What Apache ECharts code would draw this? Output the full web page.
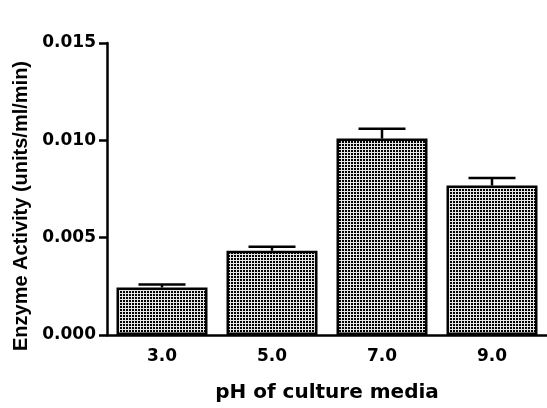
<!DOCTYPE html>
<html>
<head>
<meta charset="utf-8">
<script src="https://cdn.jsdelivr.net/npm/echarts@6/dist/echarts.min.js"></script>
<style>
  html, body { margin: 0; padding: 0; background: #fff; }
  #chart { width: 547px; height: 408px; }
</style>
</head>
<body>
<div id="chart"></div>
<script>
// pH values of the culture media and measured enzyme activity (units/ml/min)
const categories = ['3.0', '5.0', '7.0', '9.0'];
const activity = [0.00244, 0.00433, 0.01009, 0.00768];
const errors = [0.00016, 0.00020, 0.00050, 0.00038];
const yTicks = [0, 0.005, 0.010, 0.015];

(() => {
  // checkered fill like the original bars
  const tile = document.createElement('canvas');
  tile.width = 3;
  tile.height = 3;
  const ctx = tile.getContext('2d');
  ctx.fillStyle = '#e6e6e6';
  ctx.fillRect(0, 0, 3, 3);
  ctx.fillStyle = '#000000';
  ctx.fillRect(0, 0, 2, 2);

  const tickFont = {
    color: '#000',
    fontFamily: 'DejaVu Sans',
    fontWeight: 'bold',
    fontSize: 17
  };

  const myChart = echarts.init(document.getElementById('chart'), null, { renderer: 'canvas' });

  const option = {
    animation: false,
    backgroundColor: '#fff',
    grid: {
      left: 107,
      top: 43,
      width: 445,
      height: 295
    },
    xAxis: {
      type: 'category',
      data: categories,
      name: 'pH of culture media',
      nameLocation: 'middle',
      nameGap: 48,
      nameTextStyle: {
        color: '#000',
        fontFamily: 'DejaVu Sans',
        fontWeight: 'bold',
        fontSize: 20
      },
      axisLine: { lineStyle: { color: '#000', width: 2.5 } },
      axisTick: { alignWithLabel: true, length: 8, lineStyle: { color: '#000', width: 2.5 } },
      axisLabel: Object.assign({ margin: 13 }, tickFont),
      splitLine: { show: false }
    },
    yAxis: {
      type: 'value',
      min: 0,
      max: 0.015,
      interval: 0.005,
      name: 'Enzyme Activity (units/ml/min)',
      nameLocation: 'middle',
      nameGap: 70,
      nameTextStyle: {
        color: '#000',
        fontFamily: 'Liberation Sans',
        fontWeight: 'bold',
        fontSize: 20,
        padding: [0, 34, 0, 0]
      },
      axisLine: { show: true, lineStyle: { color: '#000', width: 2.5 } },
      axisTick: { show: true, length: 8, lineStyle: { color: '#000', width: 2.5 } },
      axisLabel: Object.assign({
        margin: 11,
        formatter: v => yTicks.includes(+v.toFixed(3)) ? v.toFixed(3) : ''
      }, tickFont),
      splitLine: { show: false }
    },
    series: [
      {
        type: 'bar',
        data: activity,
        barWidth: 91,
        itemStyle: {
          color: { image: tile, repeat: 'repeat' },
          borderColor: '#000',
          borderWidth: 2.5
        },
        z: 2
      },
      {
        type: 'custom',
        data: activity.map((v, i) => [i, v, errors[i]]),
        renderItem: (params, api) => {
          const base = api.coord([api.value(0), api.value(1)]);
          const top = api.coord([api.value(0), api.value(1) + api.value(2)]);
          const half = 23.5;
          const style = { stroke: '#000', lineWidth: 2.5 };
          return {
            type: 'group',
            children: [
              { type: 'line', shape: { x1: base[0], y1: base[1], x2: top[0], y2: top[1] }, style },
              { type: 'line', shape: { x1: top[0] - half, y1: top[1], x2: top[0] + half, y2: top[1] }, style }
            ]
          };
        },
        z: 3
      }
    ]
  };

  myChart.setOption(option);
})();
</script>
</body>
</html>
